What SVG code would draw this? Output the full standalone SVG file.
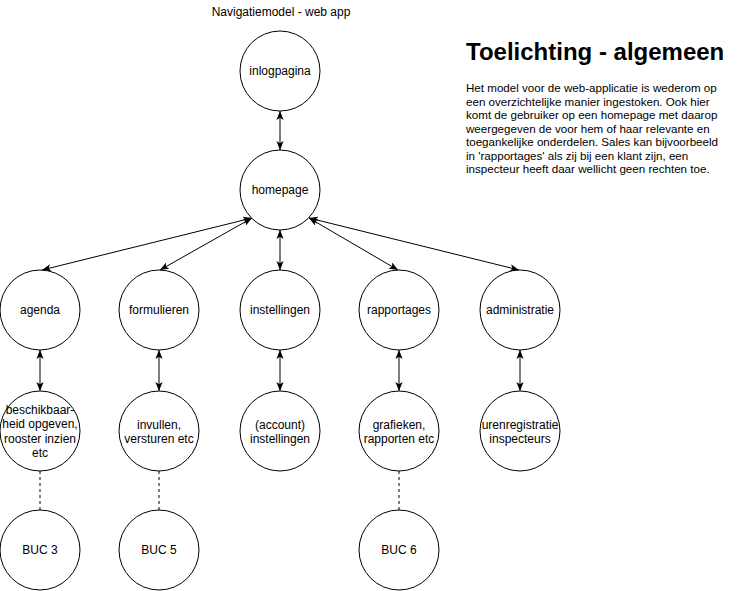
<svg xmlns="http://www.w3.org/2000/svg" width="741" height="591" viewBox="0 0 741 591">
<style>
.n{fill:#fff;stroke:#000;stroke-width:1}
.t{font-family:"Liberation Sans",Arial,sans-serif;font-size:12px;fill:#000;text-anchor:middle}
.e{fill:none;stroke:#000;stroke-width:1}
.a{marker-start:url(#ar);marker-end:url(#ar)}
.d{stroke-dasharray:3 3}
.h{font-family:"Liberation Sans",Arial,sans-serif;font-size:24px;font-weight:bold;fill:#000}
.b{font-family:"Liberation Sans",Arial,sans-serif;font-size:11.6px;fill:#000}
</style>
<defs>
<marker id="ar" viewBox="0 0 10 8" refX="10" refY="4" markerWidth="9" markerHeight="7.2" markerUnits="userSpaceOnUse" orient="auto-start-reverse">
<path d="M0,0 L10,4 L0,8 L2.5,4 z" fill="#000"/>
</marker>
</defs>
<rect width="741" height="591" fill="#fff"/>
<text class="t" x="281" y="16">Navigatiemodel - web app</text>
<g id="edges">
<line class="e a" x1="280" y1="111" x2="280" y2="150"/>
<line class="e a" x1="252" y1="218" x2="42" y2="270"/>
<line class="e a" x1="252" y1="218" x2="160" y2="270"/>
<line class="e a" x1="280" y1="230" x2="280" y2="270"/>
<line class="e a" x1="309" y1="218" x2="398" y2="270"/>
<line class="e a" x1="309" y1="218" x2="519" y2="270"/>
<line class="e a" x1="40" y1="350" x2="40" y2="391"/>
<line class="e a" x1="159" y1="350" x2="159" y2="391"/>
<line class="e a" x1="280" y1="350" x2="280" y2="391"/>
<line class="e a" x1="399" y1="350" x2="399" y2="391"/>
<line class="e a" x1="520" y1="350" x2="520" y2="391"/>
<line class="e d" x1="40" y1="471" x2="40" y2="510"/>
<line class="e d" x1="159" y1="471" x2="159" y2="510"/>
<line class="e d" x1="399" y1="471" x2="399" y2="510"/>
</g>
<g id="inlogpagina"><circle class="n" cx="280" cy="71" r="40"/><text class="t" x="280" y="75">inlogpagina</text></g>
<g id="homepage"><circle class="n" cx="280" cy="190" r="40"/><text class="t" x="280" y="194">homepage</text></g>
<g id="agenda"><circle class="n" cx="40" cy="310" r="40"/><text class="t" x="40" y="314">agenda</text></g>
<g id="formulieren"><circle class="n" cx="159" cy="310" r="40"/><text class="t" x="159" y="314">formulieren</text></g>
<g id="instellingen"><circle class="n" cx="280" cy="310" r="40"/><text class="t" x="280" y="314">instellingen</text></g>
<g id="rapportages"><circle class="n" cx="399" cy="310" r="40"/><text class="t" x="399" y="314">rapportages</text></g>
<g id="administratie"><circle class="n" cx="520" cy="310" r="40"/><text class="t" x="520" y="314">administratie</text></g>
<g id="beschikbaarheid"><circle class="n" cx="40" cy="431" r="40"/><text class="t" x="40" y="414">beschikbaar-</text><text class="t" x="40" y="428">heid opgeven,</text><text class="t" x="40" y="443">rooster inzien</text><text class="t" x="40" y="457">etc</text></g>
<g id="invullen"><circle class="n" cx="159" cy="431" r="40"/><text class="t" x="159" y="429">invullen,</text><text class="t" x="159" y="443">versturen etc</text></g>
<g id="account"><circle class="n" cx="280" cy="431" r="40"/><text class="t" x="280" y="429">(account)</text><text class="t" x="280" y="443">instellingen</text></g>
<g id="grafieken"><circle class="n" cx="399" cy="431" r="40"/><text class="t" x="399" y="429">grafieken,</text><text class="t" x="399" y="443">rapporten etc</text></g>
<g id="urenregistratie"><circle class="n" cx="520" cy="431" r="40"/><text class="t" x="520" y="429">urenregistratie</text><text class="t" x="520" y="443">inspecteurs</text></g>
<g id="buc3"><circle class="n" cx="40" cy="550" r="40"/><text class="t" x="40" y="554">BUC 3</text></g>
<g id="buc5"><circle class="n" cx="159" cy="550" r="40"/><text class="t" x="159" y="554">BUC 5</text></g>
<g id="buc6"><circle class="n" cx="399" cy="550" r="40"/><text class="t" x="399" y="554">BUC 6</text></g>
<g id="toelichting">
<text class="h" x="466" y="60">Toelichting - algemeen</text>
<text class="b" x="466" y="92">Het model voor de web-applicatie is wederom op</text>
<text class="b" x="466" y="105.5">een overzichtelijke manier ingestoken. Ook hier</text>
<text class="b" x="466" y="119">komt de gebruiker op een homepage met daarop</text>
<text class="b" x="466" y="132.5">weergegeven de voor hem of haar relevante en</text>
<text class="b" x="466" y="146">toegankelijke onderdelen. Sales kan bijvoorbeeld</text>
<text class="b" x="466" y="159.5">in 'rapportages' als zij bij een klant zijn, een</text>
<text class="b" x="466" y="173">inspecteur heeft daar wellicht geen rechten toe.</text>
</g>
</svg>
